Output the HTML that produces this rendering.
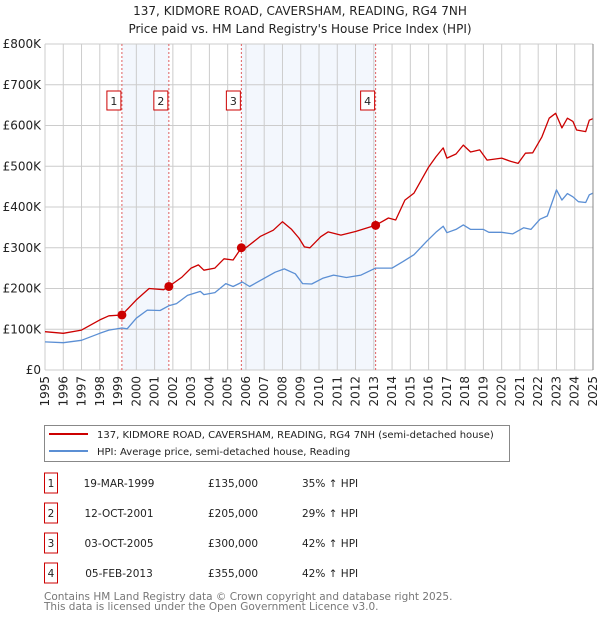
<!DOCTYPE html>
<html><head><meta charset="utf-8">
<style>
body{margin:0;background:#fff;font-family:"DejaVu Sans","Liberation Sans",sans-serif;}
svg text{font-family:"DejaVu Sans","Liberation Sans",sans-serif;}
</style></head>
<body>
<svg width="600" height="620" viewBox="0 0 600 620" xmlns="http://www.w3.org/2000/svg">
<g id="root"></g>
</svg>
<script>
const years=[1995,1996,1997,1998,1999,2000,2001,2002,2003,2004,2005,2006,2007,2008,2009,2010,2011,2012,2013,2014,2015,2016,2017,2018,2019,2020,2021,2022,2023,2024,2025];
const yTicks=[0,100000,200000,300000,400000,500000,600000,700000,800000];
const yTickLabels=["£0","£100K","£200K","£300K","£400K","£500K","£600K","£700K","£800K"];
const redT=[1995,1996,1997,1998,1998.5,1999.21,2000,2000.7,2001.5,2001.78,2002.5,2003,2003.4,2003.7,2004.3,2004.8,2005.3,2005.75,2006,2006.8,2007.5,2008,2008.5,2008.9,2009.2,2009.5,2010.1,2010.5,2011.2,2012,2013.1,2013.8,2014.2,2014.7,2015.2,2016,2016.4,2016.8,2017,2017.5,2017.9,2018.3,2018.8,2019.2,2020,2020.5,2020.9,2021.3,2021.7,2022.2,2022.6,2022.95,2023.3,2023.6,2023.9,2024.1,2024.6,2024.8,2025];
const redV=[94000,90000,98000,123000,133000,135000,172000,200000,197000,205000,228000,250000,258000,245000,250000,273000,270000,300000,300000,328000,343000,364000,345000,324000,302000,300000,327000,339000,331000,340000,355000,373000,368000,417000,434000,498000,523000,545000,520000,530000,552000,535000,540000,515000,520000,512000,507000,532000,533000,572000,618000,630000,594000,618000,610000,589000,585000,613000,617000];
const blueT=[1995,1996,1997,1998,1998.5,1999.21,1999.5,2000,2000.6,2001.3,2001.8,2002.2,2002.8,2003.5,2003.7,2004.3,2004.9,2005.3,2005.8,2006.2,2007,2007.6,2008.1,2008.7,2009.1,2009.6,2010.2,2010.8,2011.5,2012.3,2013.1,2014,2014.6,2015.2,2015.9,2016.4,2016.8,2017,2017.5,2017.9,2018.3,2019,2019.3,2020,2020.6,2021.2,2021.6,2022.1,2022.5,2023,2023.3,2023.6,2023.9,2024.2,2024.6,2024.8,2025];
const blueV=[69000,67000,73000,90000,98000,103000,101000,127000,147000,146000,158000,163000,183000,193000,185000,190000,212000,205000,216000,205000,225000,240000,248000,236000,212000,211000,225000,233000,227000,233000,250000,250000,266000,283000,316000,338000,353000,337000,345000,356000,345000,345000,338000,338000,334000,349000,345000,370000,378000,442000,417000,433000,425000,413000,411000,430000,434000];
const salesT=[1999.21,2001.78,2005.75,2013.1];
const salesV=[135000,205000,300000,355000];
const salesLabel=["1","2","3","4"];
const salesDate=["19-MAR-1999","12-OCT-2001","03-OCT-2005","05-FEB-2013"];
const salesPrice=["£135,000","£205,000","£300,000","£355,000"];
const salesHpi=["35% ↑ HPI","29% ↑ HPI","42% ↑ HPI","42% ↑ HPI"];

const NS="http://www.w3.org/2000/svg";
const root=document.getElementById('root');
const L=45,R=593,T=44,B=370;
const xs=t=>L+(t-1995)/(2025-1995)*(R-L);
const ys=v=>B-v/800000*(B-T);
function mk(tag,attrs,parent){const e=document.createElementNS(NS,tag);for(const k in attrs)e.setAttribute(k,attrs[k]);(parent||root).appendChild(e);return e;}
function txt(s,attrs,parent){const e=mk('text',attrs,parent);e.textContent=s;return e;}

let t1=txt("137, KIDMORE ROAD, CAVERSHAM, READING, RG4 7NH",{x:300,y:15,'text-anchor':'middle','font-size':12,fill:'#222'});


let t2=txt("Price paid vs. HM Land Registry's House Price Index (HPI)",{x:300,y:33,'text-anchor':'middle','font-size':12,fill:'#222'});



for(let i=0;i<4;i+=2){
  const r=mk('rect',{x:xs(salesT[i]),y:T,width:xs(salesT[i+1])-xs(salesT[i]),height:B-T,fill:'#eef3fc',opacity:0.7});
  
  
}
years.forEach(y=>{
  const l=mk('line',{x1:xs(y),x2:xs(y),y1:T,y2:B,stroke:'#cccccc','stroke-width':1});
  
  
  const tx=txt(String(y),{x:0,y:0,'font-size':12,fill:'#222','text-anchor':'end',transform:`translate(${xs(y)+4},${B+6}) rotate(-90)`});
  
  
});
yTicks.forEach((v,i)=>{
  const l=mk('line',{x1:L,x2:R,y1:ys(v),y2:ys(v),stroke:'#cccccc','stroke-width':1});
  
  
  const tx=txt(yTickLabels[i],{x:L-4,y:ys(v)+4,'font-size':12,fill:'#222','text-anchor':'end'});
  
  
});
salesT.forEach((t,i)=>{
  const l=mk('line',{x1:xs(t),x2:xs(t),y1:T,y2:B,stroke:'#e06060','stroke-width':1,'stroke-dasharray':'2,2'});
  
  
  const g=mk('g',{});
  
  
  mk('rect',{x:xs(t)-15,y:91,width:14,height:19,fill:'#fff',stroke:'#cc0000','stroke-width':1},g);
  txt(salesLabel[i],{x:xs(t)-8,y:105,'font-size':11,'text-anchor':'middle',fill:'#222'},g);
});
function path(T2,V,color,name){
  const d=T2.map((t,i)=>(i?'L':'M')+xs(t).toFixed(1)+','+ys(V[i]).toFixed(1)).join('');
  const p=mk('path',{d:d,fill:'none',stroke:color,'stroke-width':1.3,'stroke-linejoin':'round'});
  
  
}
path(blueT,blueV,'#5b8fd4','hpi-line');
path(redT,redV,'#cc0000','price-paid-line');
salesT.forEach((t,i)=>{
  const c=mk('circle',{cx:xs(t),cy:ys(salesV[i]),r:4.5,fill:'#cc0000'});
  
  
});
mk('line',{x1:R,x2:R,y1:T,y2:B,stroke:'#888','stroke-width':1});

const lg=mk('g',{});


mk('rect',{x:44.5,y:425.5,width:465,height:36,fill:'#fff',stroke:'#888','stroke-width':1},lg);
mk('line',{x1:49,x2:88,y1:434,y2:434,stroke:'#cc0000','stroke-width':2},lg);
txt("137, KIDMORE ROAD, CAVERSHAM, READING, RG4 7NH (semi-detached house)",{x:97,y:438,'font-size':10,fill:'#222'},lg);
mk('line',{x1:49,x2:88,y1:451,y2:451,stroke:'#5b8fd4','stroke-width':2},lg);
txt("HPI: Average price, semi-detached house, Reading",{x:97,y:455,'font-size':10,fill:'#222'},lg);

salesLabel.forEach((s,i)=>{
  const cy=483+i*30;
  const g=mk('g',{});
  
  
  mk('rect',{x:44.5,y:cy-10,width:13,height:20,fill:'#fff',stroke:'#cc0000','stroke-width':1},g);
  txt(s,{x:51,y:cy+4,'font-size':10.5,'text-anchor':'middle',fill:'#222'},g);
  txt(salesDate[i],{x:119,y:cy+4,'font-size':10.5,'text-anchor':'middle',fill:'#222'},g);
  txt(salesPrice[i],{x:208,y:cy+4,'font-size':10.5,fill:'#222'},g);
  txt(salesHpi[i],{x:302,y:cy+4,'font-size':10.5,fill:'#222'},g);
});
const f1=txt("Contains HM Land Registry data © Crown copyright and database right 2025.",{x:44,y:600,'font-size':10.5,fill:'#777'});


const f2=txt("This data is licensed under the Open Government Licence v3.0.",{x:44,y:610,'font-size':10.5,fill:'#777'});


</script>
</body></html>
